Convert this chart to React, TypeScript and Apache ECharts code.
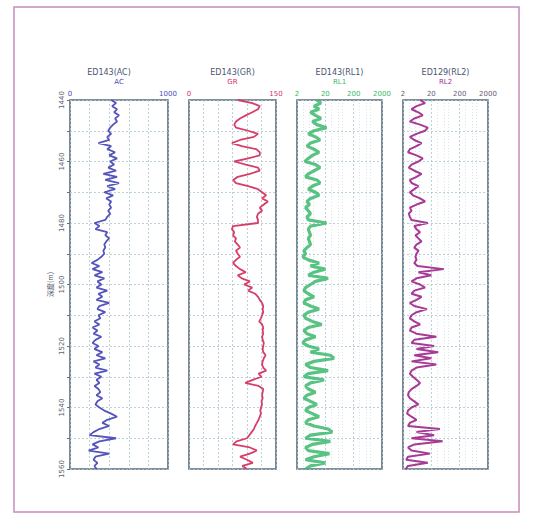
import React, { useEffect, useRef } from "react";
import * as echarts from "echarts";

const DEPTH_TOP = 1440;
const DEPTH_BOTTOM = 1560;
const DEPTH_STEP = 1;
const depthLabels = [1440, 1460, 1480, 1500, 1520, 1540, 1560];

const trackTitles = ["ED143(AC)", "ED143(GR)", "ED143(RL1)", "ED129(RL2)"];
const curveNames = ["AC", "GR", "RL1", "RL2"];
const acTicks = [0, 1000];
const grTicks = [0, 150];
const resTicks = [2, 20, 200, 2000];

// values every 1 m from 1440 m to 1560 m
const acValues = [
  420, 470, 430, 480, 450, 500, 460, 480, 440, 410,
  390, 420, 380, 400, 290, 420, 380, 460, 400, 480,
  410, 450, 390, 470, 340, 480, 360, 500, 380, 460,
  350, 440, 370, 420, 400, 420, 390, 410, 380, 360,
  250, 300, 260, 380, 360, 400, 370, 350, 360, 340,
  350, 320, 280, 220, 300, 230, 330, 250, 350, 280,
  320, 270, 380, 290, 330, 270, 400, 300, 280, 360,
  290, 310, 250, 300, 230, 280, 240, 320, 260, 230,
  290, 250, 330, 270, 360, 240, 300, 260, 380, 250,
  320, 270, 300, 250, 290, 310, 270, 330, 280, 260,
  300, 350, 420, 480, 380, 330, 400, 300, 240, 200,
  470, 300, 230, 290, 190, 400, 260, 240, 280, 250,
  270,
];

const grValues = [
  84, 109, 122, 119, 109, 98, 88, 81, 78, 81,
  102, 119, 112, 88, 74, 91, 116, 122, 122, 102,
  78, 98, 119, 122, 105, 84, 76, 81, 102, 119,
  126, 133, 126, 136, 129, 122, 126, 119, 117, 119,
  119, 76, 74, 78, 76, 81, 79, 84, 88, 81,
  84, 88, 81, 76, 81, 88, 98, 84, 91, 105,
  95, 109, 102, 114, 119, 122, 126, 128, 127, 128,
  126, 124, 121, 126, 128, 127, 128, 126, 127, 129,
  128, 127, 128, 132, 129, 127, 126, 128, 133, 120,
  125, 110, 97, 120, 128, 127, 126, 127, 125, 126,
  124, 123, 124, 122, 120, 117, 114, 112, 108, 104,
  100, 82, 76, 105, 117, 105, 88, 100, 110, 92,
  100,
];

const rl1Values = [
  10, 14, 8, 12, 6, 9, 14, 7, 10, 22,
  8, 5, 9, 13, 6, 4.5, 8, 12, 7, 5,
  3.8, 9, 13, 8, 5, 4, 10, 13, 7, 5,
  9, 12, 6, 4.5, 5.5, 4, 5, 6, 4.5, 5,
  22, 6, 5, 5.5, 6, 5, 5.5, 6, 4.5, 3.5,
  4, 3.2, 5, 12, 6, 20, 8, 5, 25, 9,
  6, 4, 3.5, 5, 8, 4, 3.5, 6, 12, 5,
  3.5, 4, 7, 15, 5, 3.5, 4.5, 9, 4, 3.2,
  5, 12, 6, 30, 40, 8, 4, 6, 25, 5,
  3.5, 18, 6, 4, 5, 9, 4.5, 3.5, 6, 10,
  5, 4, 7, 12, 5, 4, 8, 25, 35, 6,
  4, 30, 7, 4, 5, 28, 8, 4, 20, 6,
  4,
];

const rl2Values = [
  8, 12, 6, 4, 7, 10, 5, 3.5, 8, 15,
  12, 6, 3.5, 5, 9, 6, 3.5, 3, 6, 10,
  7, 4, 3.2, 5, 9, 6, 3.5, 4, 7, 5,
  3.5, 4.5, 8, 12, 6, 3.5, 4, 3.2, 3.5, 4,
  15, 5, 6, 8, 5.5, 7, 9, 6, 5, 7,
  6, 5.5, 6, 5, 6.5, 55, 7, 20, 6, 4,
  8, 12, 5, 4, 9, 6, 3.5, 5, 14, 6,
  4, 3.5, 5, 8, 4, 3.5, 6, 30, 5, 4,
  25, 6, 35, 5, 20, 4, 30, 6, 4, 3.5,
  4.5, 6, 8, 6, 4, 3.2, 3, 3.5, 5, 7,
  4, 3, 2.8, 4, 6, 3.5, 3, 40, 6, 25,
  4, 50, 5, 3, 4, 18, 3, 2.6, 15, 3,
  2.5,
];

const colors = ["#4b4bb9", "#d5345f", "#3bb86c", "#a22f8f"];
const trackLeft = [70, 189, 297, 403];
const trackWidth = [98, 87, 85, 85];
const TRACK_TOP = 100;
const TRACK_HEIGHT = 369;
const FONT = "'DejaVu Sans', sans-serif";

function toPairs(vals: number[]) {
  return vals.map((v, i) => [v, DEPTH_TOP + i * DEPTH_STEP]);
}

const gridLine = {
  show: true,
  lineStyle: { color: "#a7c7d1", type: [2, 2] as any, width: 0.8 },
};

export default function App() {
  const ref = useRef<HTMLDivElement>(null);
  useEffect(() => {
    if (!ref.current) return;
    const chart = echarts.init(ref.current, null, { renderer: "svg" });

    const grids = trackLeft.map((l, i) => ({
      left: l,
      top: TRACK_TOP,
      width: trackWidth[i],
      height: TRACK_HEIGHT,
      show: true,
      borderColor: "#5a6a7a",
      borderWidth: 1.6,
      backgroundColor: "transparent",
    }));

    const nameStyle = (i: number) => ({
      color: colors[i],
      fontSize: 7,
      fontFamily: FONT,
    });

    const xAxes: any[] = [
      {
        gridIndex: 0,
        type: "value",
        position: "top",
        min: 0,
        max: 1000,
        interval: 200,
        axisLine: { show: false },
        axisTick: { show: false },
        axisLabel: {
          fontSize: 7,
          color: colors[0],
          margin: 3,
          fontFamily: FONT,
          formatter: (v: number) => (acTicks.includes(v) ? String(v) : ""),
        },
        name: curveNames[0],
        nameLocation: "middle",
        nameGap: 15,
        nameTextStyle: nameStyle(0),
        splitLine: gridLine,
      },
      {
        gridIndex: 1,
        type: "value",
        position: "top",
        min: 0,
        max: 150,
        interval: 25,
        axisLine: { show: false },
        axisTick: { show: false },
        axisLabel: {
          fontSize: 7,
          color: colors[1],
          margin: 3,
          fontFamily: FONT,
          formatter: (v: number) => (grTicks.includes(v) ? String(v) : ""),
        },
        name: curveNames[1],
        nameLocation: "middle",
        nameGap: 15,
        nameTextStyle: nameStyle(1),
        splitLine: gridLine,
      },
      ...[2, 3].map((i) => ({
        gridIndex: i,
        type: "log",
        logBase: 10,
        position: "top",
        min: resTicks[0],
        max: resTicks[resTicks.length - 1],
        axisLine: { show: false },
        axisTick: { show: false, customValues: resTicks },
        axisLabel: {
          fontSize: 7,
          color: i === 2 ? colors[2] : "#6a5a7a",
          margin: 3,
          fontFamily: FONT,
          customValues: resTicks,
          formatter: (v: number) => String(Math.round(v)),
        },
        name: curveNames[i],
        nameLocation: "middle",
        nameGap: 15,
        nameTextStyle: nameStyle(i),
        splitLine: gridLine,
        minorTick: { show: false, splitNumber: 4 },
        minorSplitLine: {
          show: true,
          lineStyle: { color: "#c3dae0", type: [1, 2], width: 0.7 },
        },
      })),
    ];

    const yAxes: any[] = trackLeft.map((_, i) => ({
      gridIndex: i,
      type: "value",
      inverse: true,
      min: DEPTH_TOP,
      max: DEPTH_BOTTOM,
      interval: 10,
      axisLine: { show: false },
      axisTick: {
        show: i === 0,
        length: 3,
        lineStyle: { color: "#6a7080" },
      },
      axisLabel: {
        show: i === 0,
        rotate: 90,
        fontSize: 7,
        color: "#5a6070",
        margin: 5,
        fontFamily: FONT,
        formatter: (v: number) => (depthLabels.includes(v) ? String(v) : ""),
      },
      name: i === 0 ? "深度(m)" : "",
      nameLocation: "middle",
      nameRotate: 90,
      nameGap: 17,
      nameTextStyle: { color: "#4a5060", fontSize: 7, fontFamily: "'Noto Sans CJK SC', sans-serif" },
      splitLine: gridLine,
    }));

    const seriesData = [acValues, grValues, rl1Values, rl2Values];
    const widths = [1.8, 1.8, 3.2, 2];
    const series = seriesData.map((vals, i) => ({
      type: "line",
      name: curveNames[i],
      xAxisIndex: i,
      yAxisIndex: i,
      data: toPairs(vals),
      showSymbol: false,
      symbol: "none",
      silent: true,
      lineStyle: {
        color: colors[i],
        width: widths[i],
        opacity: i === 2 ? 0.85 : 0.95,
      },
    }));

    const titles = trackTitles.map((t, i) => ({
      type: "text",
      x: trackLeft[i] + trackWidth[i] / 2 - (i === 0 ? 10 : 0),
      y: 72,
      style: {
        text: t,
        fill: "#4a5570",
        fontSize: 8,
        fontFamily: FONT,
        textAlign: "center",
        textVerticalAlign: "middle",
      },
    }));

    chart.setOption({
      animation: false,
      backgroundColor: "#ffffff",
      grid: grids,
      xAxis: xAxes,
      yAxis: yAxes,
      series,
      graphic: [
        {
          type: "rect",
          shape: { x: 14, y: 7, width: 505, height: 505 },
          style: { fill: "none", stroke: "#c48cbd", lineWidth: 1.5 },
          silent: true,
        },
        ...titles,
      ],
    });
    return () => chart.dispose();
  }, []);

  return (
    <div
      ref={ref}
      style={{ position: "fixed", left: 0, top: 0, width: 533, height: 515 }}
    />
  );
}
